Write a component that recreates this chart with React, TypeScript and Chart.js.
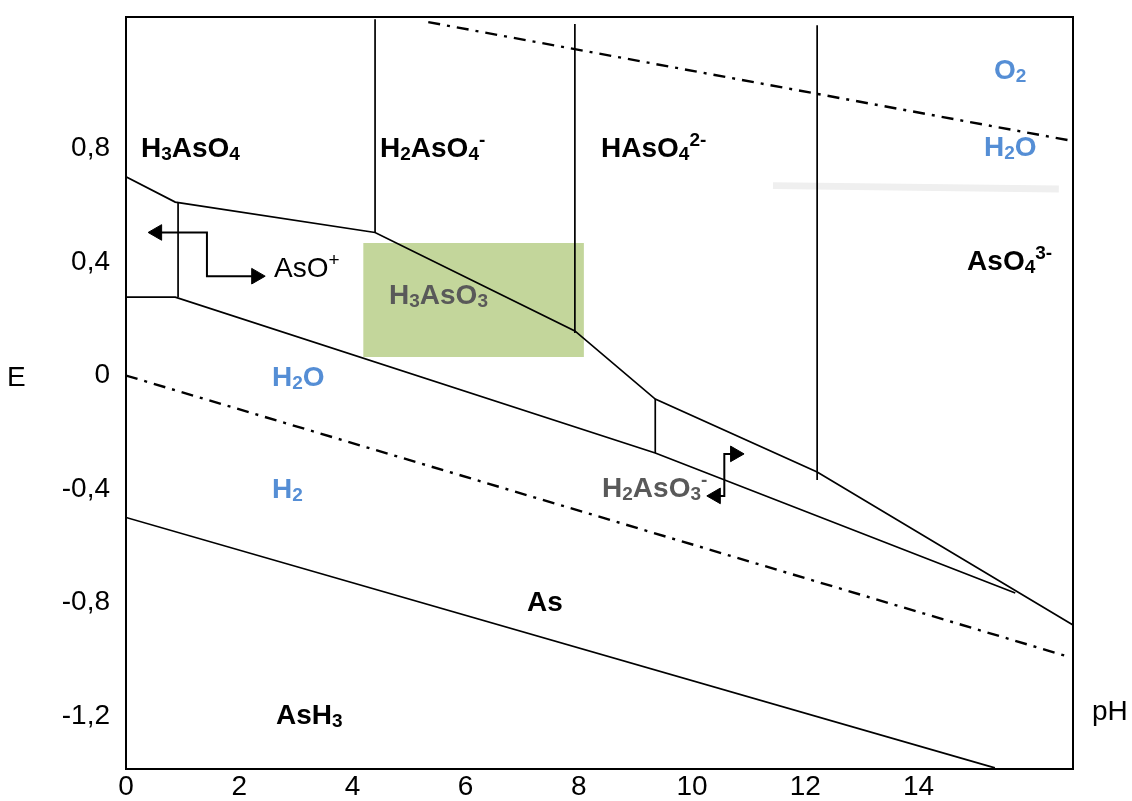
import React, { useEffect, useRef } from 'react';
import { Chart, registerables } from 'chart.js';

Chart.register(...registerables);

// ---- axis ranges / ticks ----
const PH_MIN = 0;
const PH_MAX = 16.73;
const E_MIN = -1.386;
const E_MAX = 1.263;
const PH_TICKS = [0, 2, 4, 6, 8, 10, 12, 14];
const E_TICKS = [-1.2, -0.8, -0.4, 0, 0.4, 0.8];

// ---- boundary lines (pH, E) ----
const OXIDISED_BOUNDARY_PH = [0, 0.87, 4.4, 7.93, 9.35, 12.21, 16.73];
const OXIDISED_BOUNDARY_E = [0.7, 0.611, 0.504, 0.157, -0.083, -0.34, -0.879];

const ARSENIC_BOUNDARY_PH = [0, 0.87, 9.35, 15.71];
const ARSENIC_BOUNDARY_E = [0.276, 0.276, -0.273, -0.766];

const ARSINE_BOUNDARY_PH = [0, 15.35];
const ARSINE_BOUNDARY_E = [-0.5, -1.382];

const VERTICAL_PH = [0.92, 4.4, 7.93, 9.35, 12.21];
const VERTICAL_E_TOP = [0.611, 1.255, 1.238, -0.083, 1.234];
const VERTICAL_E_BOTTOM = [0.276, 0.504, 0.15, -0.273, -0.368];

// water stability lines
const O2_LINE_PH = [5.34, 16.73];
const O2_LINE_E = [1.245, 0.826];
const H2_LINE_PH = [0, 16.61];
const H2_LINE_E = [0, -0.988];

// decorations
const GREY_BAND_PH = [11.43, 16.48];
const GREY_BAND_E = [0.669, 0.657];
const GREEN_BOX_PH = [4.19, 8.09];
const GREEN_BOX_E = [0.065, 0.467];

// arrows
const ASO_ARROW_PH = [0.55, 1.43, 1.43, 2.3];
const ASO_ARROW_E = [0.504, 0.504, 0.35, 0.35];
const H2ASO3_ARROW_PH = [10.42, 10.57, 10.57, 10.76];
const H2ASO3_ARROW_E = [-0.424, -0.424, -0.276, -0.276];

// ---- species labels ----
type Run = { t: string; k?: 'sub' | 'sup' };
const BLACK = '#000000';
const BLUE = '#558ed5';
const GREY = '#595959';

const LABEL_TEXTS: Run[][] = [
  [{ t: 'H' }, { t: '3', k: 'sub' }, { t: 'AsO' }, { t: '4', k: 'sub' }],
  [{ t: 'H' }, { t: '2', k: 'sub' }, { t: 'AsO' }, { t: '4', k: 'sub' }, { t: '-', k: 'sup' }],
  [{ t: 'HAsO' }, { t: '4', k: 'sub' }, { t: '2-', k: 'sup' }],
  [{ t: 'O' }, { t: '2', k: 'sub' }],
  [{ t: 'H' }, { t: '2', k: 'sub' }, { t: 'O' }],
  [{ t: 'AsO' }, { t: '4', k: 'sub' }, { t: '3-', k: 'sup' }],
  [{ t: 'AsO' }, { t: '+', k: 'sup' }],
  [{ t: 'H' }, { t: '3', k: 'sub' }, { t: 'AsO' }, { t: '3', k: 'sub' }],
  [{ t: 'H' }, { t: '2', k: 'sub' }, { t: 'O' }],
  [{ t: 'H' }, { t: '2', k: 'sub' }],
  [{ t: 'H' }, { t: '2', k: 'sub' }, { t: 'AsO' }, { t: '3', k: 'sub' }, { t: '-', k: 'sup' }],
  [{ t: 'As' }],
  [{ t: 'As' }, { t: 'H' }, { t: '3', k: 'sub' }],
];
const LABEL_PH = [0.265, 4.488, 8.392, 15.336, 15.159, 14.859, 2.615, 4.647, 2.58, 2.58, 8.41, 7.085, 2.65];
const LABEL_E = [0.769, 0.769, 0.769, 1.044, 0.773, 0.371, 0.347, 0.252, -0.037, -0.431, -0.428, -0.829, -1.227];
const LABEL_COLORS = [BLACK, BLACK, BLACK, BLUE, BLUE, BLACK, BLACK, GREY, BLUE, BLUE, GREY, BLACK, BLACK];
const LABEL_BOLD = [true, true, true, true, true, true, false, true, true, true, true, true, true];

const FONT = '"Liberation Sans", Arial, Helvetica, sans-serif';

const pts = (xs: number[], ys: number[]) => xs.map((x, i) => ({ x, y: ys[i] }));

const solid = (data: { x: number; y: number }[]) => ({
  data,
  borderColor: BLACK,
  borderWidth: 1.7,
  pointRadius: 0,
  fill: false,
  tension: 0,
});

const speciesPlugin = {
  id: 'speciesLabels',
  afterDatasetsDraw(chart: any) {
    const { ctx, scales } = chart;
    const xs = scales.x;
    const ys = scales.y;
    ctx.save();
    ctx.textAlign = 'left';
    ctx.textBaseline = 'alphabetic';
    LABEL_TEXTS.forEach((runs, i) => {
      let px = xs.getPixelForValue(LABEL_PH[i]);
      const py = ys.getPixelForValue(LABEL_E[i]);
      const weight = LABEL_BOLD[i] ? 'bold ' : '';
      ctx.fillStyle = LABEL_COLORS[i];
      runs.forEach((r) => {
        const size = r.k ? 19 : 28;
        const dy = r.k === 'sub' ? 3 : r.k === 'sup' ? -11 : 0;
        ctx.font = `${weight}${size}px ${FONT}`;
        ctx.fillText(r.t, px, py + dy);
        px += ctx.measureText(r.t).width;
      });
    });
    // axis titles
    ctx.fillStyle = BLACK;
    ctx.font = `28px ${FONT}`;
    ctx.fillText('E', 7, ys.getPixelForValue(0) + 10);
    ctx.fillText('pH', chart.chartArea.right + 19, ys.getPixelForValue(-1.2) + 4);
    ctx.restore();
  },
  afterDraw(chart: any) {
    const { ctx, chartArea } = chart;
    ctx.save();
    ctx.strokeStyle = BLACK;
    ctx.lineWidth = 2;
    ctx.strokeRect(chartArea.left, chartArea.top, chartArea.right - chartArea.left, chartArea.bottom - chartArea.top);
    ctx.restore();
  },
};

export default function App() {
  const ref = useRef<HTMLCanvasElement>(null);

  useEffect(() => {
    const canvas = ref.current;
    if (!canvas) return;

    const datasets: any[] = [
      // green highlight box
      {
        data: pts(GREEN_BOX_PH, [GREEN_BOX_E[1], GREEN_BOX_E[1]]),
        borderWidth: 0,
        borderColor: 'rgba(0,0,0,0)',
        backgroundColor: '#c3d69b',
        fill: { value: GREEN_BOX_E[0] },
        pointRadius: 0,
        order: 5,
      },
      // faint grey band
      {
        data: pts(GREY_BAND_PH, GREY_BAND_E),
        borderColor: '#efefef',
        borderWidth: 7,
        pointRadius: 0,
        fill: false,
        order: 4,
      },
      solid(pts(OXIDISED_BOUNDARY_PH, OXIDISED_BOUNDARY_E)),
      solid(pts(ARSENIC_BOUNDARY_PH, ARSENIC_BOUNDARY_E)),
      solid(pts(ARSINE_BOUNDARY_PH, ARSINE_BOUNDARY_E)),
      ...VERTICAL_PH.map((ph, i) =>
        solid([
          { x: ph, y: VERTICAL_E_TOP[i] },
          { x: ph, y: VERTICAL_E_BOTTOM[i] },
        ])
      ),
      {
        data: pts(O2_LINE_PH, O2_LINE_E),
        borderColor: BLACK,
        borderWidth: 2.4,
        borderDash: [12, 7, 3, 7],
        pointRadius: 0,
        fill: false,
      },
      {
        data: pts(H2_LINE_PH, H2_LINE_E),
        borderColor: BLACK,
        borderWidth: 2.4,
        borderDash: [12, 7, 3, 7],
        pointRadius: 0,
        fill: false,
      },
      {
        data: pts(ASO_ARROW_PH, ASO_ARROW_E),
        borderColor: BLACK,
        borderWidth: 2,
        fill: false,
        pointStyle: 'triangle',
        pointRadius: [9, 0, 0, 9],
        pointRotation: [270, 0, 0, 90],
        pointBackgroundColor: BLACK,
        pointBorderColor: BLACK,
        pointBorderWidth: 1,
      },
      {
        data: pts(H2ASO3_ARROW_PH, H2ASO3_ARROW_E),
        borderColor: BLACK,
        borderWidth: 2,
        fill: false,
        pointStyle: 'triangle',
        pointRadius: [9, 0, 0, 9],
        pointRotation: [270, 0, 0, 90],
        pointBackgroundColor: BLACK,
        pointBorderColor: BLACK,
        pointBorderWidth: 1,
      },
    ];

    const chart = new Chart(canvas, {
      type: 'line',
      data: { datasets },
      options: {
        responsive: false,
        animation: false,
        events: [],
        layout: { padding: { top: 17, right: 59, left: 0, bottom: 0 } },
        plugins: {
          legend: { display: false },
          tooltip: { enabled: false },
        },
        elements: { line: { tension: 0 }, point: { radius: 0 } },
        scales: {
          x: {
            type: 'linear',
            min: PH_MIN,
            max: PH_MAX,
            grid: { display: false, drawTicks: false },
            border: { display: false },
            afterBuildTicks: (s: any) => {
              s.ticks = PH_TICKS.map((v) => ({ value: v }));
            },
            afterFit: (s: any) => {
              s.height = 32;
              s.paddingLeft = 0;
              s.paddingRight = 0;
            },
            ticks: {
              autoSkip: false,
              maxRotation: 0,
              padding: 1,
              color: BLACK,
              font: { family: FONT, size: 28 },
              callback: (v: any) => String(v),
            },
          },
          y: {
            type: 'linear',
            min: E_MIN,
            max: E_MAX,
            grid: { display: false, drawTicks: false },
            border: { display: false },
            afterBuildTicks: (s: any) => {
              s.ticks = E_TICKS.map((v) => ({ value: v }));
            },
            afterFit: (s: any) => {
              s.width = 126;
              s.paddingTop = 0;
              s.paddingBottom = 0;
            },
            ticks: {
              autoSkip: false,
              padding: 16,
              color: BLACK,
              font: { family: FONT, size: 28 },
              callback: (v: any) => (Number(v) === 0 ? '0' : Number(v).toFixed(1).replace('.', ',')),
            },
          },
        },
      },
      plugins: [speciesPlugin],
    } as any);

    return () => chart.destroy();
  }, []);

  return (
    <div style={{ position: 'absolute', left: 0, top: 0, width: 1132, height: 801, background: '#ffffff' }}>
      <canvas ref={ref} width={1132} height={801} style={{ display: 'block' }} />
    </div>
  );
}
